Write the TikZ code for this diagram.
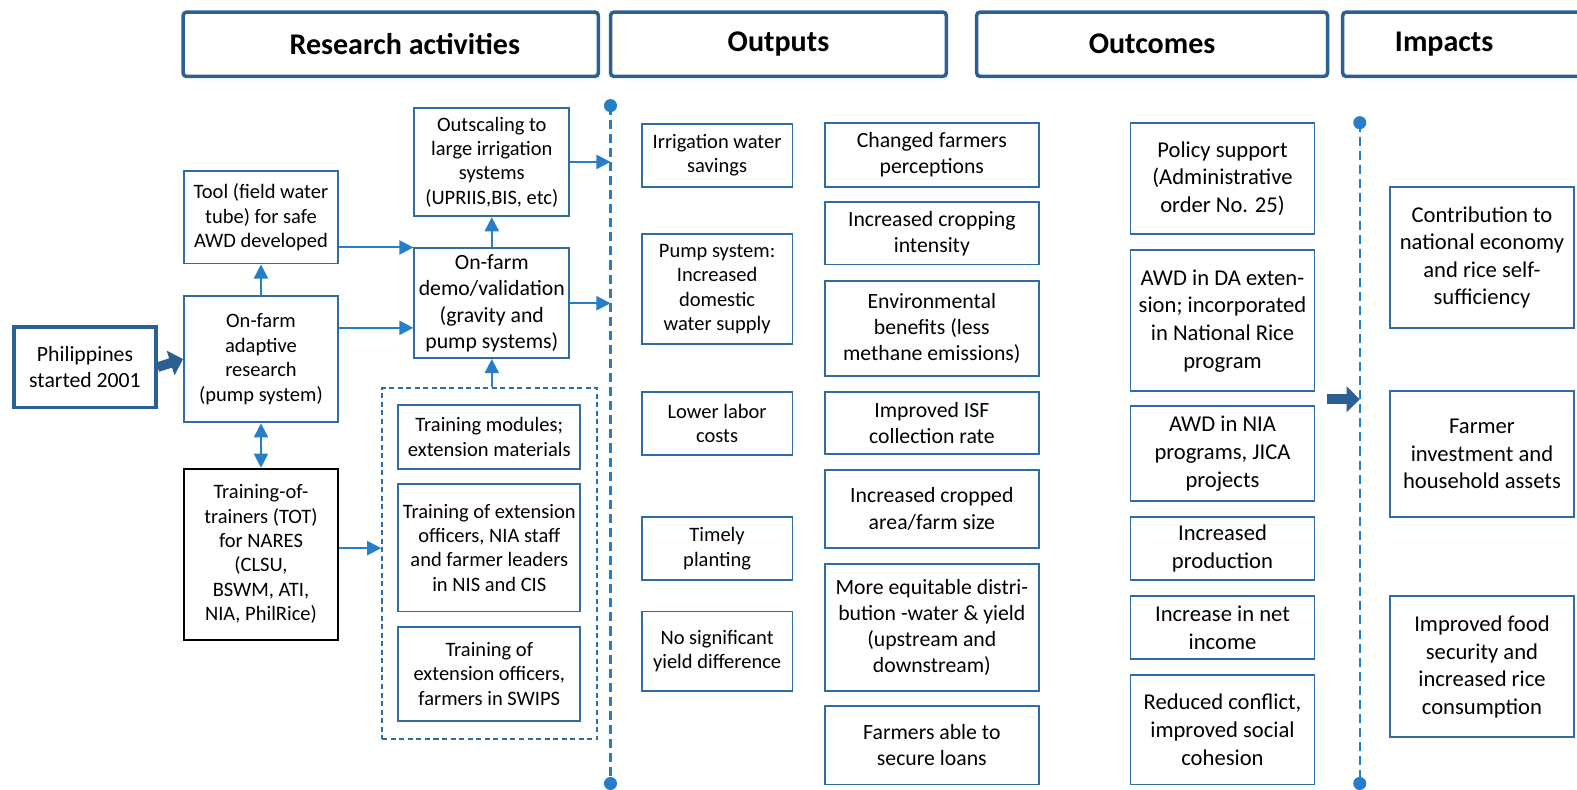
\documentclass[tikz,border=0pt]{standalone}
\usepackage{fontspec}
\setmainfont{Carlito}
\usetikzlibrary{arrows.meta, positioning, calc}
\definecolor{boxblue}{RGB}{46, 108, 168}
\definecolor{lineblue}{RGB}{38, 126, 200}
\definecolor{headblue}{RGB}{44, 96, 146}

\begin{document}
\begin{tikzpicture}[x=0.02cm, y=-0.02cm,
  header/.style={draw=headblue, line width=2pt, rounded corners=2pt, minimum height=1.28cm, font=\fontsize{17}{20}\selectfont\bfseries},
  box/.style={draw=boxblue, line width=1.1pt, align=center, inner sep=1pt, font=\fontsize{12.3}{14.8}\selectfont},
  smallbox/.style={box, font=\fontsize{11.6}{13.8}\selectfont},
  bigbox/.style={box, font=\fontsize{12.8}{15.6}\selectfont},
  groupbox/.style={draw=boxblue, line width=1.1pt, dash pattern=on 0.1cm off 0.07cm},
  arrow/.style={-{Triangle[length=2.8mm, width=2.8mm]}, line width=1.1pt, lineblue},
  twoway/.style={{Triangle[length=2.8mm, width=2.8mm]}-{Triangle[length=2.8mm, width=2.8mm]}, line width=1.1pt, lineblue},
  fatarrow/.style={-{Triangle[length=2.6mm, width=5mm]}, line width=5.5pt, headblue},
  sepline/.style={lineblue, line width=1.4pt, dash pattern=on 0.18cm off 0.1cm}
]
\useasboundingbox (0,0) rectangle (1568,785);

% Column headers
\node[header, minimum width=8.26cm] (hRes) at (388.5, 44) {\hspace*{0.56cm}Research activities};
\node[header, minimum width=6.68cm] (hOut) at (774, 44) {Outputs};
\node[header, minimum width=6.98cm] (hOutc) at (1145.5, 44) {Outcomes};
\node[header, minimum width=5.7cm, text width=3.62cm, inner xsep=1.04cm, align=left] (hImp) at (1477.5, 44) {Impacts};

% Separator lines
\coordinate (l1top) at (607, 105);
\coordinate (l1bot) at (607, 779);
\coordinate (l2top) at (1352, 122);
\coordinate (l2bot) at (1352, 779);
\draw[sepline] (l1top) -- (l1bot);
\draw[sepline] (l2top) -- (l2bot);
\foreach \p in {l1top, l1bot, l2top, l2bot}
  \fill[lineblue] (\p) circle[radius=0.13cm];

% Research activities
\node[box, line width=2pt, draw=headblue, minimum width=2.82cm, minimum height=1.6cm] (phil) at (84.5, 365) {Philippines\\started 2001};
\node[smallbox, minimum width=3.06cm, minimum height=2.52cm] (adapt) at (259.5, 357) {On-farm\\adaptive\\research\\(pump system)};
\node[smallbox, minimum width=3.06cm, minimum height=1.84cm] (tool) at (259.5, 216) {Tool (field water\\tube) for safe\\AWD developed};
\node[smallbox, draw=black, minimum width=3.06cm, minimum height=3.4cm] (tot) at (259.5, 551) {Training-of-\\trainers (TOT)\\for NARES\\(CLSU,\\BSWM, ATI,\\NIA, PhilRice)};
\node[smallbox, minimum width=3.08cm, minimum height=2.16cm] (outscale) at (489, 161) {Outscaling to\\large irrigation\\systems\\(UPRIIS,BIS, etc)};
\node[box, minimum width=3.08cm, minimum height=2.18cm] (demo) at (489, 301.5) {On-farm\\demo/validation\\(gravity and\\pump systems)};

\node[groupbox, minimum width=4.28cm, minimum height=6.98cm] (train) at (487, 560.5) {};
\node[smallbox, minimum width=3.62cm, minimum height=1.26cm] (tmod) at (486.5, 434.5) {Training modules;\\extension materials};
\node[smallbox, minimum width=3.62cm, minimum height=2.54cm] (tnis) at (486.5, 544.5) {Training of extension\\officers, NIA staff\\and farmer leaders\\in NIS and CIS};
\node[smallbox, minimum width=3.62cm, minimum height=1.88cm] (tswip) at (486.5, 670) {Training of\\extension officers,\\farmers in SWIPS};

\draw[fatarrow] (phil.east) -- (adapt.west);
\draw[arrow] (adapt.north) -- (tool.south);
\draw[twoway] (adapt.south) -- (tot.north);
\draw[arrow] (demo.north west -| tool.east) -- (demo.north west);
\draw[arrow] ([yshift=-0.49cm]demo.west -| adapt.east) -- ([yshift=-0.49cm]demo.west);
\draw[arrow] (demo.north) -- (outscale.south);
\draw[arrow] (train.north -| demo.south) -- (demo.south);
\draw[arrow] ([yshift=0.12cm]tot.east) -- ([yshift=0.12cm]tot.east -| train.west);
\draw[arrow] (outscale.east) -- (outscale.east -| l1top);
\draw[arrow] (demo.east) -- (demo.east -| l1top);

% Outputs
\node[smallbox, minimum width=3.0cm, minimum height=1.26cm] (irri) at (713, 154.5) {Irrigation water\\savings};
\node[smallbox, minimum width=3.0cm, minimum height=2.18cm] (pump) at (713, 287.5) {Pump system:\\Increased\\domestic\\water supply};
\node[smallbox, minimum width=3.0cm, minimum height=1.24cm] (labor) at (713, 421) {Lower labor\\costs};
\node[smallbox, minimum width=3.0cm, minimum height=1.26cm] (timely) at (713, 545.5) {Timely\\planting};
\node[smallbox, minimum width=3.0cm, minimum height=1.58cm] (yield) at (713, 647.5) {No significant\\yield difference};

\node[box, minimum width=4.26cm, minimum height=1.28cm] (percept) at (926.5, 154) {Changed farmers\\perceptions};
\node[box, minimum width=4.26cm, minimum height=1.24cm] (intens) at (926.5, 232) {Increased cropping\\intensity};
\node[box, minimum width=4.26cm, minimum height=1.9cm] (envir) at (926.5, 326.5) {Environmental\\benefits (less\\methane emissions)};
\node[box, minimum width=4.26cm, minimum height=1.22cm] (isf) at (926.5, 420.5) {Improved ISF\\collection rate};
\node[box, minimum width=4.26cm, minimum height=1.56cm] (area) at (926.5, 506) {Increased cropped\\area/farm size};
\node[box, minimum width=4.26cm, minimum height=2.52cm] (equit) at (926.5, 624) {More equitable distri-\\bution -water \& yield\\(upstream and\\downstream)};
\node[box, minimum width=4.26cm, minimum height=1.56cm] (loans) at (926.5, 741) {Farmers able to\\secure loans};

% Outcomes
\node[bigbox, minimum width=3.66cm, minimum height=2.22cm] (policy) at (1215.5, 177.5) {Policy support\\(Administrative\\order No. 25)};
\node[bigbox, minimum width=3.66cm, minimum height=2.8cm] (daext) at (1215.5, 319) {AWD in DA exten-\\sion; incorporated\\in National Rice\\program};
\node[bigbox, minimum width=3.66cm, minimum height=1.88cm] (nia) at (1215.5, 451) {AWD in NIA\\programs, JICA\\projects};
\node[bigbox, minimum width=3.66cm, minimum height=1.26cm] (prod) at (1215.5, 545.5) {Increased\\production};
\node[bigbox, minimum width=3.66cm, minimum height=1.24cm] (income) at (1215.5, 624) {Increase in net\\income};
\node[bigbox, minimum width=3.66cm, minimum height=2.18cm] (conflict) at (1215.5, 725.5) {Reduced conflict,\\improved social\\cohesion};

\coordinate (fatstart) at (1319, 397);
\draw[fatarrow] (fatstart) -- (fatstart -| l2top);

% Impacts
\node[bigbox, minimum width=3.66cm, minimum height=2.8cm] (economy) at (1473.5, 256) {Contribution to\\national economy\\and rice self-\\sufficiency};
\node[bigbox, minimum width=3.66cm, minimum height=2.5cm] (assets) at (1473.5, 451.5) {Farmer\\investment and\\household assets};
\node[bigbox, minimum width=3.66cm, minimum height=2.8cm] (food) at (1473.5, 663) {Improved food\\security and\\increased rice\\consumption};

\end{tikzpicture}
\end{document}
